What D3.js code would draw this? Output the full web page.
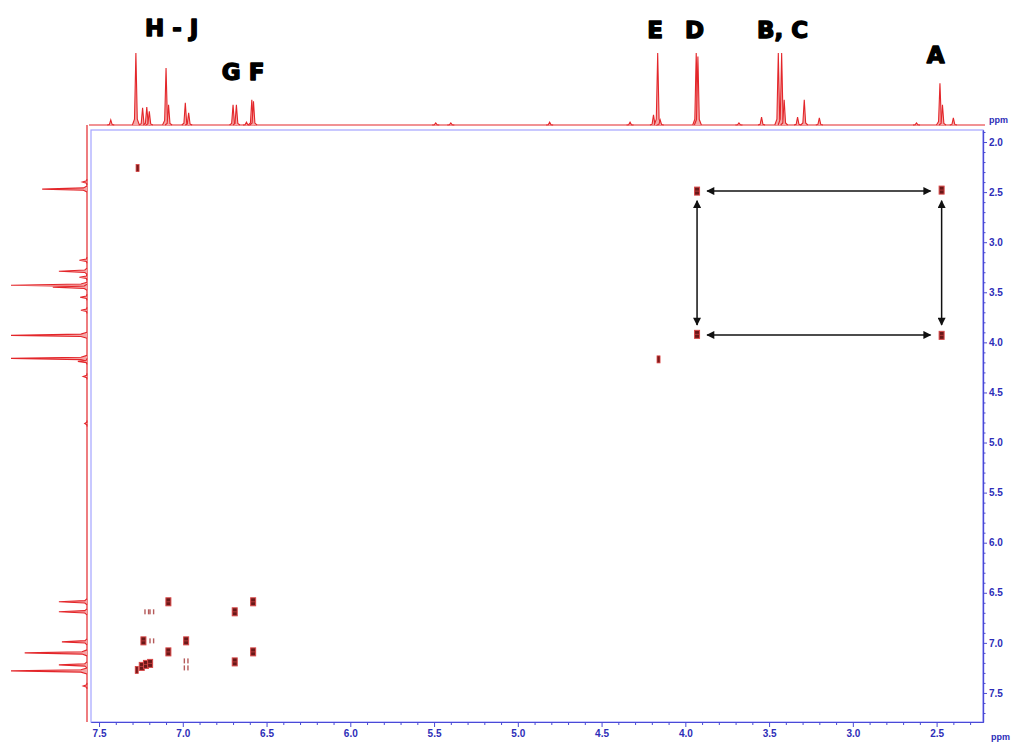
<!DOCTYPE html>
<html><head><meta charset="utf-8">
<script src="https://cdn.jsdelivr.net/npm/d3@7"></script>
<style>body{margin:0;background:#fff;} svg{display:block;}</style>
</head><body>
<svg id="c" width="1013" height="743"></svg>
<script>
// ---------- data ----------
// top (F2) 1D projection: peak positions (ppm) and relative intensities (%)
const topPeakPpm = [7.43, 7.28, 7.24, 7.215, 7.20, 7.10, 7.085, 6.985, 6.965, 6.70, 6.68, 6.62, 6.588, 6.578, 5.49, 5.40, 4.81, 4.33, 4.19, 4.165, 4.15, 3.935, 3.925, 3.68, 3.545, 3.445, 3.425, 3.41, 3.33, 3.29, 3.20, 2.62, 2.48, 2.465, 2.40];
const topPeakInt = [7, 100, 24, 25, 19, 79, 28, 31, 17, 28, 28, 4, 35, 33, 3, 3, 4, 4, 14, 100, 7, 100, 95, 3, 11, 100, 100, 35, 11, 35, 10, 3, 58, 28, 10];
// left (F1) 1D projection
const leftPeakPpm = [2.40, 2.47, 3.18, 3.29, 3.35, 3.43, 3.45, 3.55, 3.68, 3.93, 4.16, 4.19, 4.34, 4.81, 6.59, 6.69, 6.99, 7.10, 7.22, 7.28, 7.43];
const leftPeakInt = [6, 59, 10, 37, 10, 100, 45, 9, 8, 100, 100, 12, 5, 3, 37, 37, 33, 82, 37, 100, 5];
// COSY cross peaks
const crossF2 = [7.27, 7.275, 7.245, 7.22, 7.195, 7.086, 6.58, 6.69, 7.235, 6.98, 7.086, 6.58, 6.69, 3.93, 2.47, 3.93, 2.47, 4.16, 7.215, 7.185, 7.185, 6.98, 6.98];
const crossF1 = [2.26, 7.27, 7.235, 7.215, 7.205, 6.59, 6.59, 6.69, 6.98, 6.98, 7.09, 7.09, 7.19, 2.49, 2.48, 3.92, 3.93, 4.17, 6.69, 6.69, 6.98, 7.18, 7.25];
const crossKind = ["weak", "weak", "strong", "strong", "strong", "strong", "strong", "strong", "strong", "strong", "strong", "strong", "strong", "strong", "strong", "strong", "strong", "weak", "faint", "faint", "faint", "faint", "faint"];
// assignment labels
const labelText = ["H - J", "G F", "E", "D", "B, C", "A"];
const labelPpm = [7.066, 6.64, 4.18, 3.945, 3.42, 2.506];
// correlation arrows (ppm)
const arrowF2From = [3.87, 3.87, 3.93, 2.47];
const arrowF1From = [2.49, 3.926, 2.586, 2.586];
const arrowF2To = [2.536, 2.536, 3.93, 2.47];
const arrowF1To = [2.49, 3.926, 3.826, 3.826];
// axis ticks
const xMajorTicks = [7.5, 7.0, 6.5, 6.0, 5.5, 5.0, 4.5, 4.0, 3.5, 3.0, 2.5];
const yMajorTicks = [2.0, 2.5, 3.0, 3.5, 4.0, 4.5, 5.0, 5.5, 6.0, 6.5, 7.0, 7.5];

// ---------- layout ----------
const svg = d3.select("#c");
const L = 91, R = 983, T = 130, B = 722;
const x = d3.scaleLinear().domain([7.548, 2.223]).range([L, R]);
const y = d3.scaleLinear().domain([1.88, 7.79]).range([T, B]);
const topI = d3.scaleLinear().domain([0, 100]).range([125, 53]);
const leftI = d3.scaleLinear().domain([0, 100]).range([87, 11]);
const labelY = [36, 80, 38, 38, 38, 63];

const axisBlue = "#4a4ad6", tickBlue = "#2d2db8", red = "#e3262a";

// arrow marker
const defs = svg.append("defs");
["s", "e"].forEach(k => {
  defs.append("marker").attr("id", "ah" + k)
    .attr("viewBox", "0 0 10 10").attr("refX", 9).attr("refY", 5)
    .attr("markerWidth", 9).attr("markerHeight", 8).attr("markerUnits", "userSpaceOnUse")
    .attr("orient", k === "e" ? "auto" : "auto-start-reverse")
    .append("path").attr("d", "M0,0 L10,5 L0,10 Z").attr("fill", "#111");
});

// frame
svg.append("rect").attr("x", L).attr("y", T).attr("width", R - L).attr("height", B - T)
  .attr("fill", "none").attr("stroke", "#a4a4ff").attr("stroke-width", 1.2);

// top projection
svg.append("line").attr("x1", 89).attr("x2", 985).attr("y1", topI(0)).attr("y2", topI(0))
  .attr("stroke", red).attr("stroke-width", 1.2);
const topG = svg.append("g");
topPeakPpm.forEach((p, i) => {
  const cx = x(p), h = topPeakInt[i];
  const pts = [[cx - 3.5, topI(0)], [cx - 1.4, topI(h * 0.08)], [cx, topI(h)], [cx + 1.4, topI(h * 0.08)], [cx + 3.5, topI(0)]];
  topG.append("path").attr("d", d3.line()(pts))
    .attr("fill", "#f4a8a8").attr("stroke", red).attr("stroke-width", 1.1);
});

// left projection
svg.append("line").attr("x1", leftI(0)).attr("x2", leftI(0)).attr("y1", 125).attr("y2", B)
  .attr("stroke", red).attr("stroke-width", 1.2);
const leftG = svg.append("g");
leftPeakPpm.forEach((p, i) => {
  const cy = y(p), h = leftPeakInt[i];
  const pts = [[leftI(0), cy - 3], [leftI(h * 0.08), cy - 1.2], [leftI(h), cy], [leftI(h * 0.08), cy + 1.2], [leftI(0), cy + 3]];
  leftG.append("path").attr("d", d3.line()(pts))
    .attr("fill", "#f4a8a8").attr("stroke", red).attr("stroke-width", 1.1);
});

// cross peaks
const cg = svg.append("g");
crossF2.forEach((p, i) => {
  const cx = x(p), cy = y(crossF1[i]), k = crossKind[i];
  if (k === "strong") {
    cg.append("rect").attr("x", cx - 2.5).attr("y", cy - 4).attr("width", 5).attr("height", 8)
      .attr("fill", "#6a1818").attr("stroke", "#d84848").attr("stroke-width", 1);
    cg.append("line").attr("x1", cx - 2).attr("x2", cx + 2).attr("y1", cy).attr("y2", cy)
      .attr("stroke", "#c84040").attr("stroke-width", 0.8);
  } else if (k === "weak") {
    cg.append("rect").attr("x", cx - 1.5).attr("y", cy - 3.5).attr("width", 3).attr("height", 7)
      .attr("fill", "#7a1a1a").attr("stroke", "#d94040").attr("stroke-width", 0.8);
  } else {
    [-1.8, 1.8].forEach(dx => cg.append("rect").attr("x", cx + dx - 0.7).attr("y", cy - 2.5)
      .attr("width", 1.4).attr("height", 5).attr("fill", "#b55a5a"));
  }
});

// arrows
arrowF2From.forEach((p, i) => {
  svg.append("line").attr("x1", x(p)).attr("y1", y(arrowF1From[i]))
    .attr("x2", x(arrowF2To[i])).attr("y2", y(arrowF1To[i]))
    .attr("stroke", "#111").attr("stroke-width", 1.5)
    .attr("marker-start", "url(#ahs)").attr("marker-end", "url(#ahe)");
});

// labels
labelText.forEach((t, i) => {
  svg.append("text").attr("x", x(labelPpm[i])).attr("y", labelY[i])
    .attr("text-anchor", "middle").attr("font-family", "DejaVu Sans").attr("font-weight", "bold")
    .attr("font-size", 23).attr("fill", "#000").attr("stroke", "#000").attr("stroke-width", 1.4)
    .attr("stroke-linejoin", "round")
    .text(t);
});

// bottom axis
const fmt = d3.format(".1f");
const xMinor = d3.range(76, 22, -1).map(v => v / 10).filter(v => Math.abs(v * 2 - Math.round(v * 2)) > 1e-6 && v >= x.domain()[1] && v <= x.domain()[0]);
const bAx = svg.append("g").attr("transform", `translate(0,${B})`);
bAx.call(d3.axisBottom(x).tickValues(xMajorTicks).tickFormat(fmt).tickSize(5).tickSizeOuter(0).tickPadding(3));
const bMin = svg.append("g").attr("transform", `translate(0,${B})`);
bMin.call(d3.axisBottom(x).tickValues(xMinor).tickFormat("").tickSize(3).tickSizeOuter(0));
[bAx, bMin].forEach(g => {
  g.select(".domain").attr("stroke", axisBlue).attr("stroke-width", 1.2);
  g.selectAll(".tick line").attr("stroke", axisBlue);
  g.selectAll("text").attr("fill", tickBlue).attr("font-family", "Liberation Sans").attr("font-weight", "bold").attr("font-size", 10);
});

// right axis
const yMinor = d3.range(19, 78).map(v => v / 10).filter(v => Math.abs(v * 2 - Math.round(v * 2)) > 1e-6);
const rAx = svg.append("g").attr("transform", `translate(${R},0)`);
rAx.call(d3.axisRight(y).tickValues(yMajorTicks).tickFormat(fmt).tickSize(4).tickSizeOuter(0).tickPadding(2));
const rMin = svg.append("g").attr("transform", `translate(${R},0)`);
rMin.call(d3.axisRight(y).tickValues(yMinor).tickFormat("").tickSize(2.5).tickSizeOuter(0));
[rAx, rMin].forEach(g => {
  g.select(".domain").attr("stroke", axisBlue).attr("stroke-width", 1.2);
  g.selectAll(".tick line").attr("stroke", axisBlue);
  g.selectAll("text").attr("fill", tickBlue).attr("font-family", "Liberation Sans").attr("font-weight", "bold").attr("font-size", 10);
});

// ppm unit labels
svg.append("text").attr("x", 989).attr("y", 123).text("ppm")
  .attr("fill", tickBlue).attr("font-family", "Liberation Sans").attr("font-weight", "bold").attr("font-size", 9);
svg.append("text").attr("x", 991).attr("y", 740).text("ppm")
  .attr("fill", tickBlue).attr("font-family", "Liberation Sans").attr("font-weight", "bold").attr("font-size", 9);
</script>
</body></html>
